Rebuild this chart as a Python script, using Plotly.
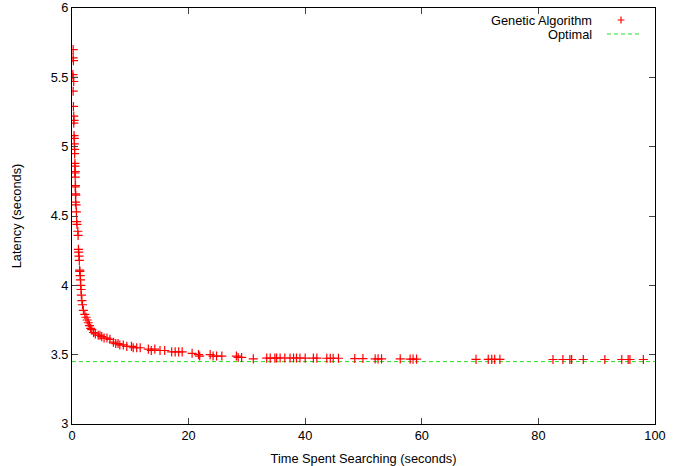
import plotly.graph_objects as go

# Genetic algorithm samples: time spent searching (s) vs latency (s)
ga_time = [0.2, 0.2, 0.25, 0.15, 0.2, 0.3, 0.2, 0.25, 0.3, 0.35, 0.3, 0.35, 0.4, 0.4, 0.45, 0.45,
           0.5, 0.5, 0.55, 0.5, 0.55, 0.6, 0.55, 0.6, 0.65, 0.6, 0.7, 0.75, 0.8, 0.85, 1.0, 1.05,
           1.1, 1.15, 1.2, 1.25, 1.3, 1.35, 1.4, 1.45, 1.5, 1.55, 1.6, 1.7, 1.8, 1.95, 2.2, 2.4,
           2.6, 2.8, 3.0, 3.2, 3.4, 3.7, 4.0, 4.5, 4.8, 5.1, 5.5, 6.0, 6.5, 7.1, 7.5, 7.9, 8.2,
           8.8, 9.4, 10.2, 10.5, 11.1, 11.7, 13.1, 13.6, 14.2, 15.1, 15.9, 17.1, 17.7, 18.3, 18.9,
           20.6, 21.7, 21.9, 23.7, 24.2, 24.8, 25.7, 28.2, 28.5, 29.1, 31.1, 33.4, 34.0, 34.8,
           35.1, 35.7, 36.5, 37.4, 38.0, 38.5, 39.1, 40.0, 41.4, 42.0, 43.7, 44.3, 44.8, 45.7,
           48.5, 49.9, 52.0, 52.5, 53.1, 56.3, 58.0, 58.5, 59.1, 69.3, 71.4, 72.0, 72.5, 73.4,
           82.5, 84.2, 85.4, 85.7, 87.7, 91.4, 94.3, 95.4, 95.7, 98.0]
ga_latency = [5.70, 5.64, 5.62, 5.52, 5.50, 5.47, 5.40, 5.29, 5.22, 5.19, 5.17, 5.08, 5.06, 5.02,
              4.98, 4.95, 4.88, 4.86, 4.82, 4.81, 4.78, 4.72, 4.71, 4.66, 4.65, 4.60, 4.58, 4.53,
              4.46, 4.44, 4.39, 4.36, 4.26, 4.24, 4.21, 4.18, 4.11, 4.10, 4.07, 4.04, 4.00, 3.97,
              3.93, 3.89, 3.86, 3.82, 3.79, 3.77, 3.75, 3.73, 3.71, 3.69, 3.68, 3.66, 3.65, 3.64,
              3.64, 3.63, 3.62, 3.62, 3.61, 3.59, 3.58, 3.58, 3.57, 3.57, 3.56, 3.56, 3.55, 3.55,
              3.55, 3.54, 3.53, 3.54, 3.53, 3.53, 3.52, 3.52, 3.52, 3.52, 3.51, 3.50, 3.49, 3.50,
              3.49, 3.49, 3.49, 3.49, 3.48, 3.48, 3.47, 3.475, 3.475, 3.475,
              3.476, 3.476, 3.476, 3.476, 3.476, 3.476, 3.476, 3.475, 3.475, 3.475, 3.474, 3.474,
              3.474, 3.474, 3.472, 3.472, 3.47, 3.47, 3.47, 3.47, 3.468, 3.468, 3.468, 3.466,
              3.466, 3.466, 3.466, 3.466, 3.465, 3.465, 3.465, 3.465, 3.465, 3.465, 3.465, 3.465,
              3.465, 3.465]

optimal_latency = 3.45
x_range = [0, 100]
y_range = [3, 6]
x_ticks = [0, 20, 40, 60, 80, 100]
y_ticks = [3, 3.5, 4, 4.5, 5, 5.5, 6]
y_tick_labels = ["3", "3.5", "4", "4.5", "5", "5.5", "6"]

FONT = "Liberation Sans, Arial, sans-serif"
FS = 12.8
RED = "#ff0000"
GREEN = "#22dd22"

fig = go.Figure()
fig.add_trace(go.Scatter(
    x=x_range, y=[optimal_latency, optimal_latency], mode="lines",
    line=dict(color=GREEN, width=1, dash="4px,3px"), showlegend=False, hoverinfo="skip"))
fig.add_trace(go.Scatter(
    x=ga_time, y=ga_latency, mode="markers",
    marker=dict(symbol="cross-thin", size=6.5, line=dict(color=RED, width=1.2), color=RED),
    showlegend=False))

W, H = 688, 466
L, R, T, B = 72, 33, 8, 42
pw, ph = W - L - R, H - T - B


def px(xp):
    return (xp - L) / pw


def py(yp):
    return (H - B - yp) / ph


# custom gnuplot-style key (text then sample)
fig.add_annotation(x=px(594), y=py(20), xref="paper", yref="paper", text="Genetic Algorithm",
                   showarrow=False, xanchor="right", yanchor="middle",
                   font=dict(family=FONT, size=FS, color="#000"))
fig.add_annotation(x=px(594), y=py(34), xref="paper", yref="paper", text="Optimal",
                   showarrow=False, xanchor="right", yanchor="middle",
                   font=dict(family=FONT, size=FS, color="#000"))
cx, cy, hs = 621, 20, 3.5
fig.add_shape(type="path", xref="paper", yref="paper",
              path=f"M {px(cx-hs)},{py(cy)} L {px(cx+hs)},{py(cy)} M {px(cx)},{py(cy-hs)} L {px(cx)},{py(cy+hs)}",
              line=dict(color=RED, width=1.2))
fig.add_shape(type="line", xref="paper", yref="paper", x0=px(607), x1=px(639), y0=py(34), y1=py(34),
              line=dict(color=GREEN, width=1, dash="4px,3px"))

axis_common = dict(showline=True, linecolor="#000", linewidth=1, mirror="allticks",
                   ticks="inside", ticklen=6, tickcolor="#444", tickwidth=1,
                   showgrid=False, zeroline=False, automargin=False,
                   tickfont=dict(family=FONT, size=FS, color="#000"))

fig.update_layout(
    width=W, height=H, margin=dict(l=L, r=R, t=T, b=B),
    paper_bgcolor="white", plot_bgcolor="white",
    xaxis=dict(range=x_range, tickvals=x_ticks, **axis_common,
               title=dict(text="Time Spent Searching (seconds)", standoff=12,
                          font=dict(family=FONT, size=FS, color="#000"))),
    yaxis=dict(range=y_range, tickvals=y_ticks, ticktext=y_tick_labels, **axis_common,
               title=dict(text="Latency (seconds)", standoff=26,
                          font=dict(family=FONT, size=FS, color="#000"))),
)

fig.write_html("out.html", config={"displayModeBar": False},
               post_script="document.body.style.margin='0';document.body.style.overflow='hidden';")
